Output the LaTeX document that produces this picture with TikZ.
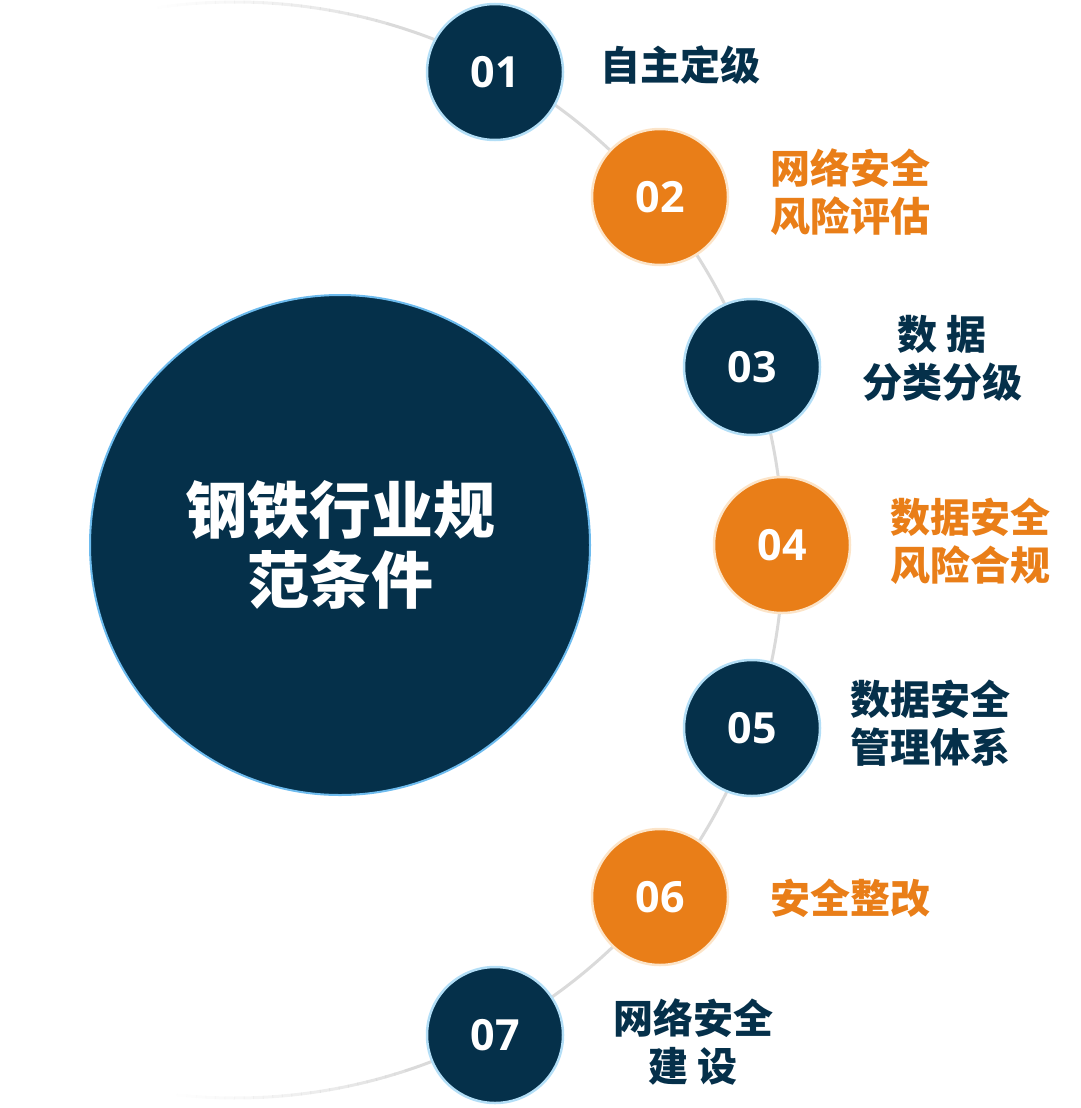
\documentclass[tikz,border=0pt]{standalone}
\usepackage{fontspec}
\usetikzlibrary{calc}
\newfontfamily\cjk{Noto Sans CJK SC}
\newfontfamily\numfont{Open Sans}
\definecolor{navy}{HTML}{05304A}
\definecolor{orng}{HTML}{E97E18}
\definecolor{ltblue}{HTML}{B3DEF6}
\definecolor{mainrim}{HTML}{6DBBEE}
\definecolor{cream}{HTML}{FCE4C8}
\definecolor{arcgray}{HTML}{DADADA}
\begin{document}
\begin{tikzpicture}[x=1pt,y=1pt,
  numc/.style={circle, minimum size=136pt, inner sep=0pt,
    font=\numfont\bfseries\fontsize{43}{43}\selectfont, text=white},
  dcirc/.style={numc, fill=navy, draw=ltblue, line width=2.5pt},
  ocirc/.style={numc, fill=orng, draw=cream, line width=2.5pt},
  lab/.style={font=\cjk\bfseries\fontsize{40}{48}\selectfont, align=center, inner sep=0pt},
  dlab/.style={lab, text=navy},
  olab/.style={lab, text=orng},
  arcline/.style={draw=arcgray, line width=3pt}
]
\useasboundingbox (0,0) rectangle (1080,-1108);
% background arc with fading ends
\coordinate (arcc) at (235,-550);
\draw[arcline] (arcc) ++(74:548) arc[start angle=74, end angle=-72, radius=548];
\foreach \i in {0,...,24}{
  \pgfmathsetmacro{\op}{0.85*(1-\i/25)^1.3}
  \pgfmathsetmacro{\sa}{74+\i}
  \pgfmathsetmacro{\ea}{75.1+\i}
  \draw[arcline, draw opacity=\op] (arcc) ++(\sa:548) arc[start angle=\sa, end angle=\ea, radius=548];
  \pgfmathsetmacro{\sb}{-72-\i}
  \pgfmathsetmacro{\eb}{-73.1-\i}
  \draw[arcline, draw opacity=\op] (arcc) ++(\sb:548) arc[start angle=\sb, end angle=\eb, radius=548];
}
% main circle
\node[circle, minimum size=500pt, inner sep=0pt, fill=navy, draw=mainrim, line width=2pt,
  text=white, align=center, font=\cjk\bfseries\fontsize{62}{70}\selectfont] (main) at (340,-545)
  {钢铁行业规\\范条件};
% step circles
\node[dcirc] (c1) at (495,-72) {01};
\node[ocirc] (c2) at (660,-197) {02};
\node[dcirc] (c3) at (752,-367) {03};
\node[ocirc] (c4) at (782,-545) {04};
\node[dcirc] (c5) at (752,-728) {05};
\node[ocirc] (c6) at (660,-897) {06};
\node[dcirc] (c7) at (495,-1035) {07};
% labels
\node[dlab] (t1) at (680,-65) {自主定级};
\node[olab] (t2) at (850,-192) {网络安全\\风险评估};
\node[dlab] (t3) at (942,-358) {数 据\\分类分级};
\node[olab] (t4) at (970,-541) {数据安全\\风险合规};
\node[dlab] (t5) at (930,-723) {数据安全\\管理体系};
\node[olab] (t6) at (850,-898) {安全整改};
\node[dlab] (t7) at (693,-1042) {网络安全\\建 设};
\end{tikzpicture}
\end{document}
